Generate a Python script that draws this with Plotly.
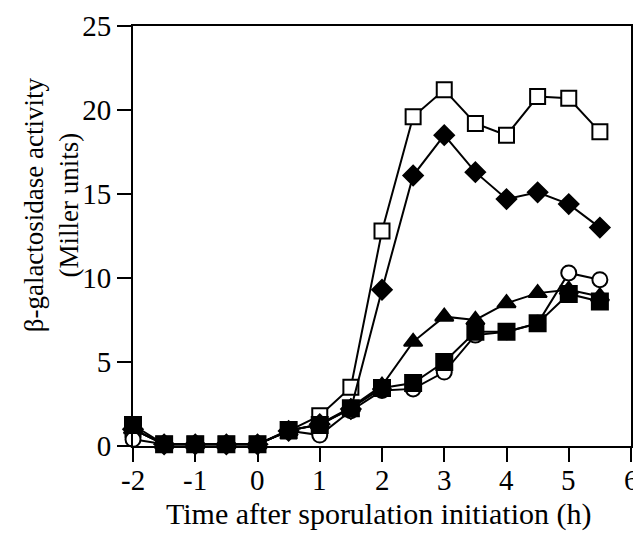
import plotly.graph_objects as go

time_h = [-2, -1.5, -1, -0.5, 0, 0.5, 1, 1.5, 2, 2.5, 3, 3.5, 4, 4.5, 5, 5.5]

open_squares = [1.0, 0.1, 0.1, 0.1, 0.1, 0.9, 1.8, 3.5, 12.8, 19.6, 21.2, 19.2, 18.5, 20.8, 20.7, 18.7]
filled_diamonds = [1.0, 0.1, 0.1, 0.1, 0.1, 0.9, 1.3, 2.2, 9.3, 16.1, 18.5, 16.3, 14.7, 15.1, 14.4, 13.0]
filled_triangles = [1.0, 0.1, 0.1, 0.1, 0.1, 0.9, 1.3, 2.3, 3.6, 6.2, 7.7, 7.5, 8.5, 9.1, 9.3, 8.9]
open_circles = [0.4, 0.1, 0.1, 0.1, 0.1, 0.9, 0.65, 2.1, 3.3, 3.4, 4.4, 6.6, 6.8, 7.3, 10.3, 9.9]
filled_squares = [1.25, 0.1, 0.1, 0.1, 0.1, 0.95, 1.25, 2.25, 3.45, 3.75, 5.0, 6.8, 6.8, 7.3, 9.05, 8.6]

x_ticks = [-2, -1, 0, 1, 2, 3, 4, 5, 6]
y_ticks = [0, 5, 10, 15, 20, 25]

x_title = "Time after sporulation initiation (h)"
y_title = "β-galactosidase activity<br>(Miller units)"

fig = go.Figure()

def add(y, symbol, size, fill):
    fig.add_trace(go.Scatter(
        x=time_h, y=y, mode="lines+markers",
        line=dict(color="black", width=2),
        marker=dict(symbol=symbol, size=size, color=fill,
                    line=dict(color="black", width=2)),
        showlegend=False, cliponaxis=False))

add(open_squares, "square", 15, "white")
add(filled_diamonds, "diamond", 15, "black")
add(filled_triangles, "triangle-up", 16, "black")
add(open_circles, "circle", 15, "white")
add(filled_squares, "square", 16, "black")

fam = "Liberation Serif, Times New Roman, serif"
tick_font = dict(family=fam, size=29, color="black")
xtitle_font = dict(family=fam, size=30, color="black")
ytitle_font = dict(family=fam, size=27, color="black")

# x tick labels placed on the x data scale
tick_annotations = [
    dict(text=str(v), xref="x", yref="paper", x=v, y=-0.081,
         xanchor="center", yanchor="middle", showarrow=False, font=tick_font)
    for v in x_ticks
]

fig.update_layout(
    width=633, height=526,
    margin=dict(l=125, r=10, t=18, b=88, autoexpand=False),
    paper_bgcolor="white", plot_bgcolor="white",
    font=tick_font,
    xaxis=dict(range=[-2, 6], tickvals=x_ticks, showticklabels=False,
               ticks="outside", ticklen=14, tickwidth=2, tickcolor="black",
               showline=True, linewidth=2, linecolor="black", mirror=True,
               showgrid=False, zeroline=False, automargin=False),
    yaxis=dict(range=[0, 25], tickvals=y_ticks,
               ticks="outside", ticklen=14, tickwidth=2, tickcolor="black",
               showline=True, linewidth=2, linecolor="black", mirror=True,
               showgrid=False, zeroline=False, automargin=False,
               tickfont=tick_font),
    annotations=tick_annotations + [
        dict(text=x_title, xref="paper", yref="paper", x=0.494, y=-0.162,
             xanchor="center", yanchor="middle", showarrow=False, font=xtitle_font),
        dict(text=y_title, xref="paper", yref="paper", x=-0.163, y=0.575,
             xanchor="center", yanchor="middle", showarrow=False, textangle=-90,
             font=ytitle_font),
    ],
)

fig.write_html("out.html")
